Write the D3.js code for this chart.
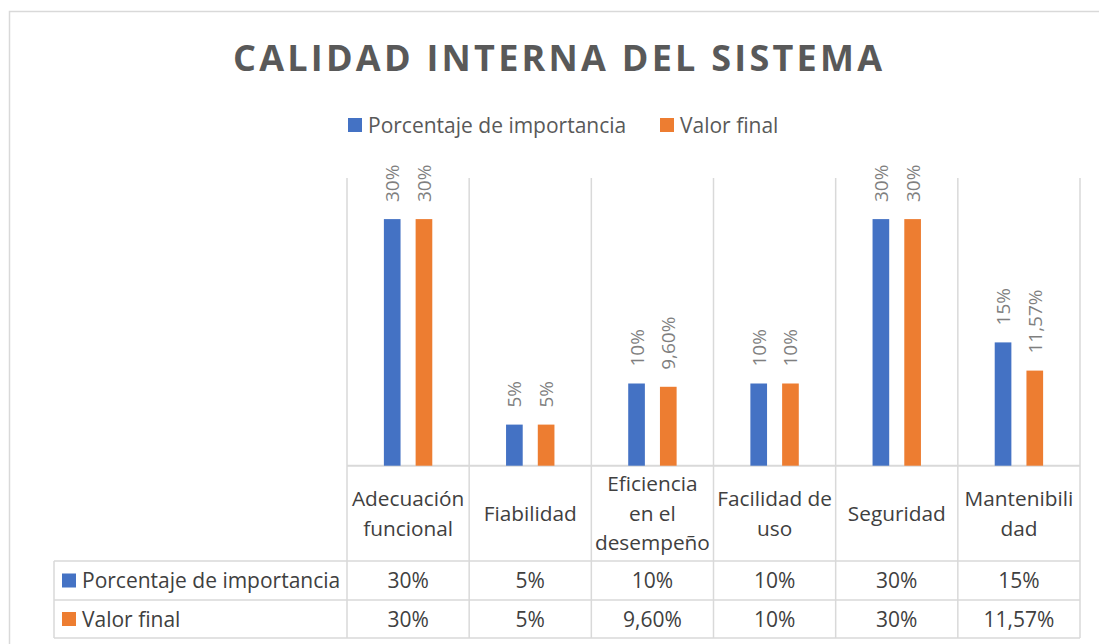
<!DOCTYPE html>
<html>
    <head>
        <meta charset="utf-8">
        <title>Calidad interna del sistema</title>
        <script src="https://d3js.org/d3.v7.min.js" charset="utf-8"></script>
        <style>
            body { margin: 0; background: white; }
            text { font-family: "Open Sans", Lato, sans-serif; }
        </style>
    </head>
    <body>
        <script>
            var width_SVG = 1099;
            var height_SVG = 644;

            // datos
            var categories = ["Adecuación funcional", "Fiabilidad", "Eficiencia en el desempeño", "Facilidad de uso", "Seguridad", "Mantenibilidad"];
            var categoryLines = [["Adecuación", "funcional"], ["Fiabilidad"], ["Eficiencia", "en el", "desempeño"], ["Facilidad de", "uso"], ["Seguridad"], ["Mantenibili", "dad"]];
            var seriesNames = ["Porcentaje de importancia", "Valor final"];
            var importancia = [0.30, 0.05, 0.10, 0.10, 0.30, 0.15];
            var valorFinal = [0.30, 0.05, 0.096, 0.10, 0.30, 0.1157];
            var colors = ["#4472C4", "#ED7D31"];

            var seriesValues = [importancia, valorFinal];

            function fmt(v) {
                var p = v * 100;
                if (Math.abs(p - Math.round(p)) < 1e-9) return Math.round(p) + "%";
                return p.toFixed(2).replace(".", ",") + "%";
            }

            var svg = d3.select("body")
                        .append("svg")
                        .attr("width", width_SVG)
                        .attr("height", height_SVG)
                        .style("background", "white");

            // borde del grafico
            svg.append("rect")
                .attr("x", 9.5).attr("y", 11.5)
                .attr("width", 1200).attr("height", 700)
                .style("fill", "none")
                .style("stroke", "#D9D9D9")
                .style("stroke-width", 1.5);

            // titulo
            svg.append("text")
                .attr("x", 557.5)
                .attr("y", 71)
                .attr("text-anchor", "middle")
                .attr("textLength", 649)
                .attr("lengthAdjust", "spacing")
                .style("font-size", "36px")
                .style("font-weight", "bold")
                .style("fill", "#595959")
                .text("CALIDAD INTERNA DEL SISTEMA");

            // leyenda
            var legendX = [348, 660];
            var legend = svg.selectAll(".legend")
                            .data(seriesNames)
                            .enter()
                            .append("g")
                            .attr("class", "legend")
                            .attr("transform", function(d, i) { return "translate(" + legendX[i] + ",118)"; });
            legend.append("rect")
                .attr("width", 14).attr("height", 14)
                .style("fill", function(d, i) { return colors[i]; });
            legend.append("text")
                .attr("x", 20).attr("y", 14.5)
                .style("font-size", "21px")
                .style("fill", "#595959")
                .text(function(d) { return d; });

            // escalas
            var x0 = d3.scaleBand().domain(categories).range([347, 1080]);
            var x1 = d3.scaleBand().domain(seriesNames)
                        .range([x0.bandwidth() / 2 - 24.2, x0.bandwidth() / 2 + 24.2])
                        .paddingInner(0.475);
            var y = d3.scaleLinear().domain([0, 0.35]).range([465.7, 178]);

            var gridColor = "#D9D9D9";
            var tableRows = [561, 600, 638];
            var tableLeft = 54;

            // lineas verticales (grafico + tabla)
            var bounds = categories.map(function(c) { return x0(c); }).concat([x0.range()[1]]);
            svg.selectAll(".vgrid")
                .data(bounds)
                .enter()
                .append("line")
                .attr("x1", function(d) { return d; })
                .attr("x2", function(d) { return d; })
                .attr("y1", y(0.35))
                .attr("y2", tableRows[2])
                .style("stroke", gridColor)
                .style("stroke-width", 1.5);

            // eje horizontal
            svg.append("line")
                .attr("x1", x0.range()[0]).attr("x2", x0.range()[1])
                .attr("y1", y(0)).attr("y2", y(0))
                .style("stroke", gridColor)
                .style("stroke-width", 2);

            // lineas de la tabla
            svg.selectAll(".hrow")
                .data(tableRows)
                .enter()
                .append("line")
                .attr("x1", tableLeft).attr("x2", x0.range()[1])
                .attr("y1", function(d) { return d; })
                .attr("y2", function(d) { return d; })
                .style("stroke", gridColor)
                .style("stroke-width", 1.5);
            svg.append("line")
                .attr("x1", tableLeft).attr("x2", tableLeft)
                .attr("y1", tableRows[0]).attr("y2", tableRows[2])
                .style("stroke", gridColor)
                .style("stroke-width", 1.5);

            // barras
            var barData = [];
            seriesNames.forEach(function(s, si) {
                categories.forEach(function(c, ci) {
                    barData.push({ cat: c, serie: s, si: si, value: seriesValues[si][ci] });
                });
            });

            svg.selectAll(".bar")
                .data(barData)
                .enter()
                .append("rect")
                .attr("x", function(d) { return x0(d.cat) + x1(d.serie); })
                .attr("y", function(d) { return y(d.value); })
                .attr("width", x1.bandwidth())
                .attr("height", function(d) { return y(0) - y(d.value); })
                .style("fill", function(d) { return colors[d.si]; });

            // etiquetas de datos
            svg.selectAll(".label")
                .data(barData)
                .enter()
                .append("text")
                .attr("transform", function(d) {
                    var cx = x0(d.cat) + x1(d.serie) + x1.bandwidth() / 2 + 7;
                    return "translate(" + cx + "," + (y(d.value) - 17) + ") rotate(-90)";
                })
                .style("font-size", "19px")
                .style("fill", "#7F7F7F")
                .text(function(d) { return fmt(d.value); });

            // categorias
            var catCells = svg.selectAll(".cat")
                            .data(categories)
                            .enter()
                            .append("text")
                            .attr("text-anchor", "middle")
                            .style("font-size", "20.8px")
                            .style("fill", "#404040");
            catCells.each(function(c, i) {
                var lines = categoryLines[i];
                var cy = (y(0) + tableRows[0]) / 2 + 7.5;
                var lh = 29.5;
                d3.select(this).selectAll("tspan")
                    .data(lines)
                    .enter()
                    .append("tspan")
                    .attr("x", x0(c) + x0.bandwidth() / 2)
                    .attr("y", function(d, j) { return cy + (j - (lines.length - 1) / 2) * lh; })
                    .text(function(d) { return d; });
            });

            // filas de la tabla
            seriesNames.forEach(function(s, si) {
                var cy = (tableRows[si] + tableRows[si + 1]) / 2;
                svg.append("rect")
                    .attr("x", 62).attr("y", cy - 7)
                    .attr("width", 14).attr("height", 14)
                    .style("fill", colors[si]);
                svg.append("text")
                    .attr("x", 82).attr("y", cy + 7.5)
                    .style("font-size", "21px")
                    .style("fill", "#404040")
                    .text(s);
                svg.selectAll(".val" + si)
                    .data(categories)
                    .enter()
                    .append("text")
                    .attr("x", function(c) { return x0(c) + x0.bandwidth() / 2; })
                    .attr("y", cy + 7.5)
                    .attr("text-anchor", "middle")
                    .style("font-size", "21px")
                    .style("fill", "#404040")
                    .text(function(c, ci) { return fmt(seriesValues[si][ci]); });
            });
        </script>
    </body>
</html>
